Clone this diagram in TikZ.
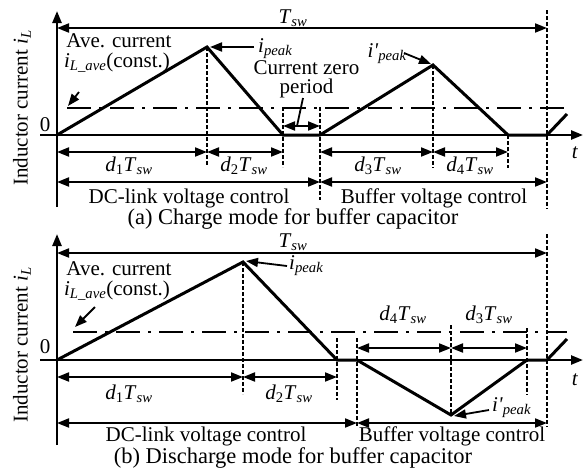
\documentclass[tikz,border=0pt]{standalone}
\usepackage{fontspec}
\setmainfont{Liberation Serif}
\usetikzlibrary{arrows.meta}
\newcommand{\myT}{\textit{T}\textsubscript{\textit{sw}}}
\newcommand{\myd}[1]{\textit{d}\textsubscript{#1}\myT}
\newcommand{\mypeak}{\textit{i}\textsubscript{\textit{peak}}}
\newcommand{\mypeakp}{\textit{i\textquotesingle}\textsubscript{\textit{peak}}}
\newcommand{\myave}{\textit{i}\textsubscript{\textit{L\_ave}}(const.)}
\begin{document}
\begin{tikzpicture}[x=1pt,y=-1pt,
  font=\fontsize{21}{23}\selectfont,
  tip/.tip={Triangle[length=12pt,width=9pt]},
  axisline/.style={line width=2.4pt},
  wave/.style={line width=3pt,line join=miter},
  dim/.style={line width=1.8pt,tip-tip},
  ptr/.style={line width=1.8pt,-tip},
  vdash/.style={line width=1.6pt,dash pattern=on 3.5pt off 2.5pt},
  avg/.style={line width=1.6pt,dash pattern=on 24pt off 8pt on 3pt off 8pt},
  lbl/.style={inner sep=0pt,anchor=base},
  captxt/.style={inner sep=0pt,anchor=base,font=\fontsize{22.5}{25}\selectfont}]
\useasboundingbox (0,0) rectangle (587,474);

% ================= (a) =================
\coordinate (aO) at (57,135);
\coordinate (aYb) at (57,207);
\coordinate (aYt) at (57,11);
\coordinate (aXl) at (40,135);
\coordinate (aXr) at (583,135);
\coordinate (aP1) at (207,47);
\coordinate (aZ1) at (283,135);
\coordinate (aZ2) at (320,135);
\coordinate (aP2) at (433,65);
\coordinate (aZ3) at (508,135);
\coordinate (aZ4) at (547,135);
\coordinate (aE) at (567,114);

\draw[axisline,-tip] (aYb) -- (aYt);
\draw[axisline,-tip] (aXl) -- (aXr);
\draw[wave] (aO) -- (aP1) -- (aZ1) -- (aZ2) -- (aP2) -- (aZ3) -- (aZ4) -- (aE);

% average line
\coordinate (aAl) at (67,108);
\coordinate (aAr) at (567,108);
\draw[avg] (aAl) -- (aAr);

% vertical dashed
\coordinate (aV1t) at (207,47);  \coordinate (aV1b) at (207,166);
\coordinate (aV2t) at (283,107); \coordinate (aV2b) at (283,167);
\coordinate (aV3t) at (320,107); \coordinate (aV3b) at (320,200);
\coordinate (aV4t) at (433,65);  \coordinate (aV4b) at (433,168);
\coordinate (aV5t) at (508,135); \coordinate (aV5b) at (508,168);
\coordinate (aV6t) at (547,10);  \coordinate (aV6b) at (547,209);
\foreach \v in {1,...,6}{\draw[vdash] (aV\v t) -- (aV\v b);}

% dimension arrows
\coordinate (aT1) at (57,28);  \coordinate (aT2) at (547,28);
\draw[dim] (aT1) -- (aT2);
\coordinate (ad0) at (57,152);  \coordinate (ad1) at (207,152);
\coordinate (ad2) at (283,152); \coordinate (ad3) at (320,152);
\coordinate (ad4) at (433,152); \coordinate (ad5) at (508,152);
\draw[dim] (ad0) -- (ad1);
\draw[dim] (ad1) -- (ad2);
\draw[dim] (ad3) -- (ad4);
\draw[dim] (ad4) -- (ad5);
\coordinate (az1) at (283,126); \coordinate (az2) at (320,126);
\draw[dim] (az1) -- (az2);
\coordinate (ac0) at (57,182); \coordinate (ac1) at (320,182); \coordinate (ac2) at (547,182);
\draw[dim] (ac0) -- (ac1);
\draw[dim] (ac1) -- (ac2);

% labels
\node[lbl] (aTl) at (293,23) {\myT};
\node[lbl] (a0) at (45,131) {0};
\node[lbl] (at) at (575,158) {\textit{t}};
\node[lbl] (aAve1) at (119,47) {Ave. current};
\node[lbl] (aAve2) at (117,67) {\myave};
\coordinate (aAveS) at (79,92); \coordinate (aAveE) at (68,106);
\draw[ptr] (aAveS) -- (aAveE);
\node[lbl,anchor=base west] (aPk) at (258,52) {\mypeak};
\coordinate (aPkS) at (254,47); \coordinate (aPkE) at (210,47);
\draw[ptr] (aPkS) -- (aPkE);
\node[lbl,anchor=base east] (aPk2) at (407,57) {\mypeakp};
\coordinate (aPk2S) at (404,53); \coordinate (aPk2E) at (431,64);
\draw[ptr] (aPk2S) -- (aPk2E);
\node[inner sep=0pt,align=center,font=\fontsize{21}{19}\selectfont] (aCz) at (306.5,79) {Current zero\\period};
\coordinate (aCzS) at (303,98); \coordinate (aCzE) at (297,126);
\draw[line width=1.8pt] (aCzS) -- (aCzE);
\node[lbl] (ad1l) at (129,171) {\myd{1}};
\node[lbl] (ad2l) at (244,171) {\myd{2}};
\node[lbl] (ad3l) at (378,171) {\myd{3}};
\node[lbl] (ad4l) at (470,171) {\myd{4}};
\node[lbl] (aDC) at (189,203) {DC-link voltage control};
\node[lbl] (aBuf) at (434,203) {Buffer voltage control};
\node[captxt] (aCap) at (293,224) {(a) Charge mode for buffer capacitor};
\node[inner sep=0pt,rotate=90] (aY) at (22,108) {Inductor current \textit{i}\textsubscript{\textit{L}}};

% ================= (b) =================
\coordinate (bO) at (57,360);
\coordinate (bYb) at (57,445);
\coordinate (bYt) at (57,234);
\coordinate (bXl) at (40,360);
\coordinate (bXr) at (583,360);
\coordinate (bP1) at (243,262);
\coordinate (bZ1) at (337,360);
\coordinate (bZ2) at (357,360);
\coordinate (bP2) at (451,415);
\coordinate (bZ3) at (527,360);
\coordinate (bZ4) at (547,360);
\coordinate (bE) at (567,339);

\draw[axisline,-tip] (bYb) -- (bYt);
\draw[axisline,-tip] (bXl) -- (bXr);
\draw[wave] (bO) -- (bP1) -- (bZ1) -- (bZ2) -- (bP2) -- (bZ3) -- (bZ4) -- (bE);

\coordinate (bAl) at (73,332);
\coordinate (bAr) at (567,332);
\draw[avg] (bAl) -- (bAr);

\coordinate (bV1t) at (243,262); \coordinate (bV1b) at (243,394);
\coordinate (bV2t) at (337,338); \coordinate (bV2b) at (337,400);
\coordinate (bV3t) at (357,338); \coordinate (bV3b) at (357,427);
\coordinate (bV4t) at (451,325); \coordinate (bV4b) at (451,415);
\coordinate (bV5t) at (527,328); \coordinate (bV5b) at (527,395);
\coordinate (bV6t) at (547,234); \coordinate (bV6b) at (547,427);
\foreach \v in {1,...,6}{\draw[vdash] (bV\v t) -- (bV\v b);}

\coordinate (bT1) at (57,253);  \coordinate (bT2) at (547,253);
\draw[dim] (bT1) -- (bT2);
\coordinate (bd0) at (57,377);  \coordinate (bd1) at (243,377); \coordinate (bd2) at (337,377);
\draw[dim] (bd0) -- (bd1);
\draw[dim] (bd1) -- (bd2);
\coordinate (be0) at (357,348);  \coordinate (be1) at (451,348); \coordinate (be2) at (527,348);
\draw[dim] (be0) -- (be1);
\draw[dim] (be1) -- (be2);
\coordinate (bc0) at (57,423); \coordinate (bc1) at (357,423); \coordinate (bc2) at (547,423);
\draw[dim] (bc0) -- (bc1);
\draw[dim] (bc1) -- (bc2);

\node[lbl] (bTl) at (293,247) {\myT};
\node[lbl] (b0) at (45,353) {0};
\node[lbl] (bt) at (575,385) {\textit{t}};
\node[lbl] (bAve1) at (119,275) {Ave. current};
\node[lbl] (bAve2) at (117,295) {\myave};
\coordinate (bAveS) at (95,307); \coordinate (bAveE) at (75,327);
\draw[ptr] (bAveS) -- (bAveE);
\node[lbl,anchor=base west] (bPk) at (289,269) {\mypeak};
\coordinate (bPkS) at (287,266); \coordinate (bPkE) at (246,261);
\draw[ptr] (bPkS) -- (bPkE);
\node[lbl,anchor=base west] (bPk2) at (492,411) {\mypeakp};
\coordinate (bPk2S) at (489,410); \coordinate (bPk2E) at (454,416);
\draw[ptr] (bPk2S) -- (bPk2E);
\node[lbl] (bd1l) at (129,399) {\myd{1}};
\node[lbl] (bd2l) at (289,399) {\myd{2}};
\node[lbl] (bd4l) at (403,320) {\myd{4}};
\node[lbl] (bd3l) at (489,320) {\myd{3}};
\node[lbl] (bDC) at (206,441) {DC-link voltage control};
\node[lbl] (bBuf) at (452,441) {Buffer voltage control};
\node[captxt] (bCap) at (293,463) {(b) Discharge mode for buffer capacitor};
\node[inner sep=0pt,rotate=90] (bY) at (22,345) {Inductor current \textit{i}\textsubscript{\textit{L}}};
\end{tikzpicture}
\end{document}
